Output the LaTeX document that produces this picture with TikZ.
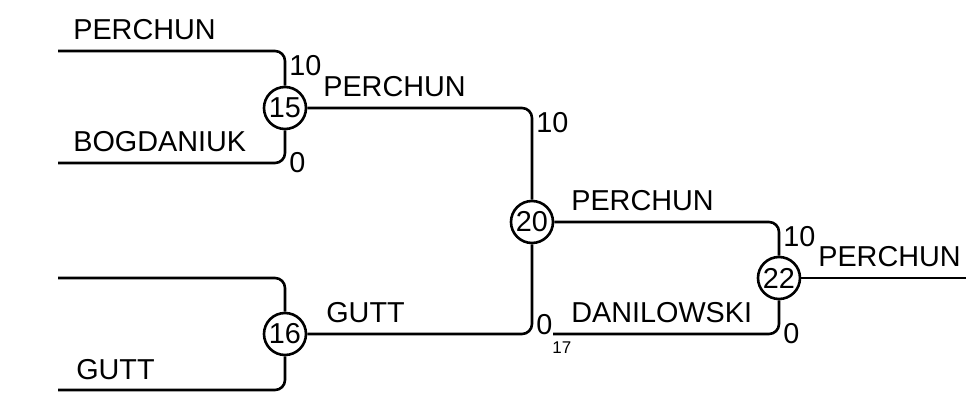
\documentclass[tikz,border=0pt]{standalone}
\usepackage{fontspec}
\setmainfont{Liberation Sans}
\begin{document}
\begin{tikzpicture}[x=0.5pt, y=-0.5pt, line width=1.3pt,
  spiel/.style={circle, draw, inner sep=0pt, minimum size=21pt, font=\fontsize{14.4}{17}\selectfont},
  spieler/.style={anchor=base west, inner sep=0pt, font=\fontsize{14.4}{17}\selectfont},
  punkte/.style={inner sep=1.5pt, font=\fontsize{14.4}{17}\selectfont},
  ast/.style={rounded corners=5pt}]
  \useasboundingbox (0,0) rectangle (966,394);

  % Spiele
  \node[spiel] (s15) at (285,108) {15};
  \node[spiel] (s16) at (285,334) {16};
  \node[spiel] (s20) at (532,222) {20};
  \node[spiel] (s22) at (779,278) {22};

  % freie Enden
  \coordinate (e1) at (58,51);
  \coordinate (e2) at (58,163);
  \coordinate (e3) at (58,278);
  \coordinate (e4) at (58,390);
  \coordinate (e5) at (553,334);
  \coordinate (ende) at (966,278);

  % Linien
  \draw[ast] (e1) -| (s15);
  \draw[ast] (e2) -| (s15);
  \draw[ast] (e3) -| (s16);
  \draw[ast] (e4) -| (s16);
  \draw[ast] (s15) -| (s20);
  \draw[ast] (s16) -| (s20);
  \draw[ast] (s20) -| (s22);
  \draw[ast] (e5) -| (s22);
  \draw (s22) -- (ende);

  % Namen
  \node[spieler] (n1) at (72,40)  {PERCHUN};
  \node[spieler] (n2) at (72,152) {BOGDANIUK};
  \node[spieler] (n4) at (75,380) {GUTT};
  \node[spieler] (n15) at (322,97) {PERCHUN};
  \node[spieler] (n16) at (325,323) {GUTT};
  \node[spieler] (n20) at (570,211) {PERCHUN};
  \node[spieler] (n5) at (570,323) {DANILOWSKI};
  \node[spieler] (n22) at (817,267) {PERCHUN};

  % Punkte
  \node[punkte, anchor=north west] (p1) at (e1 -| s15) {10};
  \node[punkte, anchor=west] (p2) at (e2 -| s15) {0};
  \node[punkte, anchor=north west] (p15) at (s15 -| s20) {10};
  \node[punkte, anchor=west] (p16) at (s16 -| s20) {0\raisebox{-1.2ex}{\fontsize{8.5}{9}\selectfont 17}};
  \node[punkte, anchor=north west] (p20) at (s20 -| s22) {10};
  \node[punkte, anchor=west] (p5) at (e5 -| s22) {0};
\end{tikzpicture}
\end{document}
